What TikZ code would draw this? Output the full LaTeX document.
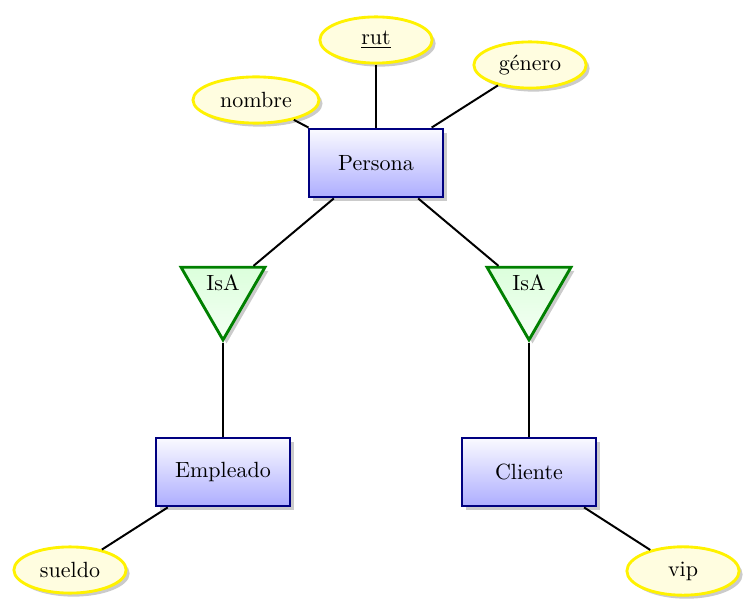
\documentclass[tikz,border=0pt]{standalone}
\usetikzlibrary{shapes.geometric,shadows}
\tikzset{
  softshadow/.style={drop shadow={opacity=0.45,fill=black!45,shadow xshift=1.6pt,shadow yshift=-1.6pt}},
  entity/.style={rectangle,draw=blue!50!black,line width=1.3pt,top color=blue!2,bottom color=blue!32,
    minimum width=60.9pt,minimum height=30.9pt,softshadow,inner sep=2pt},
  attribute/.style={ellipse,draw=yellow,line width=1.3pt,fill=yellow!12,
    minimum width=51pt,minimum height=21pt,softshadow,inner sep=1pt},
  isa/.style={regular polygon,regular polygon sides=3,shape border rotate=180,
    draw=green!50!black,line width=1.3pt,top color=green!14,bottom color=green!4,
    minimum size=44pt,inner sep=0pt,softshadow},
  link/.style={line width=0.9pt,black}
}
\begin{document}
\begin{tikzpicture}[x=0.4545pt,y=-0.4545pt]
\useasboundingbox (0,0) rectangle (754,608);
\node[entity] (persona) at (376,163) {Persona};
\node[entity] (empleado) at (223,472) {Empleado};
\node[entity] (cliente) at (529,472) {Cliente};
\node[attribute] (rut) at (376,40) {\underline{rut}};
\node[attribute] (genero) at (530,65) {género};
\node[attribute,minimum width=57.3pt] (nombre) at (256,100) {nombre};
\node[attribute] (sueldo) at (70,570) {sueldo};
\node[attribute,minimum height=22pt] (vip) at (683,571) {vip};
\node[isa,label={[yshift=3.9pt]center:IsA}] (isa1) at (223,291.5) {};
\node[isa,label={[yshift=3.9pt]center:IsA}] (isa2) at (529,291.5) {};
\draw[link] (rut) -- (persona);
\draw[link] (genero) -- (persona);
\draw[link] (nombre) -- (persona);
\draw[link] (persona) -- (isa1);
\draw[link] (persona) -- (isa2);
\draw[link] (isa1) -- (empleado);
\draw[link] (isa2) -- (cliente);
\draw[link] (empleado) -- (sueldo);
\draw[link] (cliente) -- (vip);
\end{tikzpicture}
\end{document}
